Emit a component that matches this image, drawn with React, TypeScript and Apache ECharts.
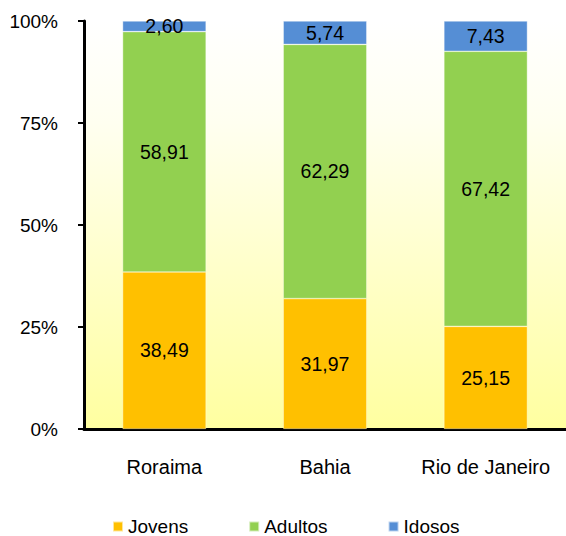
import React, { useEffect, useRef } from "react";
import * as echarts from "echarts";

const categories = ["Roraima", "Bahia", "Rio de Janeiro"];
const jovens = [38.49, 31.97, 25.15];
const adultos = [58.91, 62.29, 67.42];
const idosos = [2.6, 5.74, 7.43];

const FONT = "'Liberation Sans', Arial, sans-serif";
const fmt = (v: number) => v.toFixed(2).replace(".", ",");

export default function App() {
  const ref = useRef<HTMLDivElement>(null);

  useEffect(() => {
    document.body.style.margin = "0";
    if (!ref.current) return;
    const chart = echarts.init(ref.current, undefined, { renderer: "svg" });

    const seg = (name: string, data: number[], color: string) => ({
      name,
      type: "bar",
      stack: "total",
      data,
      barWidth: "52%",
      itemStyle: { color, borderColor: "rgba(255,255,255,0.6)", borderWidth: 0.6 },
      label: {
        show: true,
        position: "inside",
        color: "#000",
        fontSize: 19.5,
        fontFamily: FONT,
        formatter: (p: any) => fmt(p.value),
      },
    });

    chart.setOption({
      animation: false,
      textStyle: { fontFamily: FONT },
      grid: {
        left: 84,
        right: 0,
        top: 21,
        bottom: 107,
        show: true,
        borderWidth: 0,
        backgroundColor: {
          type: "linear",
          x: 0,
          y: 0,
          x2: 0,
          y2: 1,
          colorStops: [
            { offset: 0, color: "#FFFFFF" },
            { offset: 0.25, color: "#FFFFF0" },
            { offset: 1, color: "#FFFFA0" },
          ],
        },
      },
      legend: {
        left: 112,
        top: 517,
        padding: 0,
        itemWidth: 10,
        itemHeight: 10,
        itemGap: 60,
        icon: "rect",
        textStyle: { fontSize: 19, color: "#000", fontFamily: FONT },
        data: ["Jovens", "Adultos", "Idosos"],
      },
      xAxis: {
        type: "category",
        data: categories,
        axisLine: { lineStyle: { color: "#000", width: 3 } },
        axisTick: { show: false },
        axisLabel: { interval: 0, fontSize: 20, color: "#000", margin: 28, fontFamily: FONT },
      },
      yAxis: {
        type: "value",
        min: 0,
        max: 100,
        interval: 25,
        axisLine: { show: true, lineStyle: { color: "#000", width: 3 } },
        axisTick: { show: true, length: 6, lineStyle: { color: "#000", width: 2 } },
        splitLine: { show: false },
        axisLabel: {
          fontSize: 19,
          color: "#000",
          margin: 26,
          fontFamily: FONT,
          formatter: "{value}%",
        },
      },
      series: [
        seg("Jovens", jovens, "#FFC000"),
        seg("Adultos", adultos, "#92D050"),
        seg("Idosos", idosos, "#558ED5"),
      ],
    });

    return () => chart.dispose();
  }, []);

  return <div ref={ref} style={{ width: 566, height: 536 }} />;
}
